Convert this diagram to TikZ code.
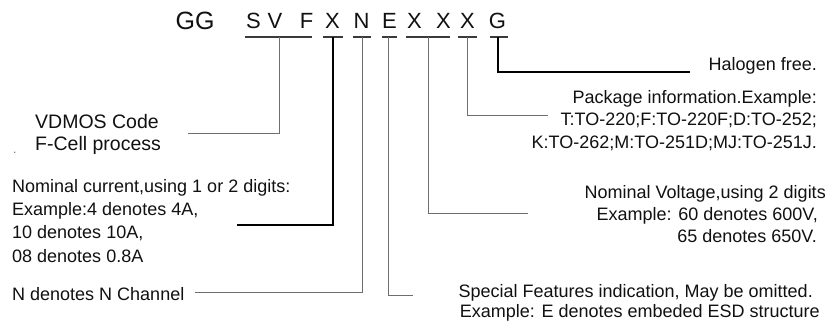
\documentclass[tikz,border=0pt]{standalone}
\usepackage{fontspec}
\setmainfont{Liberation Sans}
\definecolor{txt}{HTML}{111111}
\definecolor{lc}{HTML}{6E6E6E}
\definecolor{ulc}{HTML}{3A3A3A}
\begin{document}
\begin{tikzpicture}[x=1pt,y=-1pt,
  lbl/.style={inner sep=0pt, font=\fontsize{18}{22}\selectfont, text=txt},
  code/.style={inner sep=0pt, font=\fontsize{22}{26}\selectfont, anchor=base, text=txt},
  ul/.style={draw=ulc, line width=1.1pt},
  conn/.style={draw=lc, line width=0.9pt},
  connb/.style={draw=black, line width=1.4pt}]
\useasboundingbox[fill=white] (0,0) rectangle (828,322);

% code letters
\node[code,font=\fontsize{25}{28}\selectfont] (gg) at (195,29) {GG};
\node[code] (s)  at (253.5,28) {S};
\node[code] (v)  at (275,28) {V};
\node[code] (f)  at (306.5,28) {F};
\node[code] (x1) at (332.5,28) {X};
\node[code] (n)  at (361.5,28) {N};
\node[code] (e)  at (389.5,28) {E};
\node[code] (x2) at (414.5,28) {X};
\node[code] (x3) at (443.5,28) {X};
\node[code] (x4) at (467.5,28) {X};
\node[code] (g)  at (497.5,28) {G};

% underlines
\coordinate (svfA) at (245,37); \coordinate (svfB) at (312,37); \coordinate (svfU) at (279,37);
\coordinate (xA) at (323,37);   \coordinate (xB) at (343,37);   \coordinate (xU) at (333,37);
\coordinate (nA) at (353,37);   \coordinate (nB) at (371,37);   \coordinate (nU) at (362,37);
\coordinate (eA) at (382,37);   \coordinate (eB) at (397,37);   \coordinate (eU) at (388,37);
\coordinate (xxA) at (406,37);  \coordinate (xxB) at (450,37);  \coordinate (xxU) at (428,37);
\coordinate (pA) at (458,37);   \coordinate (pB) at (477,37);   \coordinate (pU) at (467,37);
\coordinate (gA) at (490,37);   \coordinate (gB) at (508,37);   \coordinate (gU) at (498,37);
\foreach \a/\b in {svfA/svfB,xA/xB,nA/nB,eA/eB,xxA/xxB,pA/pB,gA/gB}
  \draw[ul] (\a) -- (\b);

% left texts
\node[lbl,anchor=base west,font=\fontsize{19.5}{22}\selectfont] (vd1) at (35,128) {VDMOS Code};
\node[lbl,anchor=base west,font=\fontsize{19.5}{22}\selectfont] (vd2) at (35,150) {F-Cell process};
\node[lbl,anchor=base west,text=lc,font=\fontsize{12}{14}\selectfont] (dot) at (13,153) {.};
\node[lbl,anchor=base west] (c1) at (12,192) {Nominal current,using 1 or 2 digits:};
\node[lbl,anchor=base west] (c2) at (12,215) {Example:4 denotes 4A,};
\node[lbl,anchor=base west] (c3) at (12,238) {10 denotes 10A,};
\node[lbl,anchor=base west] (c4) at (12,262) {08 denotes 0.8A};
\node[lbl,anchor=base west] (nch) at (12,300) {N denotes N Channel};

% right texts
\node[lbl,anchor=base east] (hal) at (817,70) {Halogen free.};
\node[lbl,anchor=base east] (p1) at (817,103) {Package information.Example:};
\node[lbl,anchor=base east] (p2) at (817,125) {T:TO-220;F:TO-220F;D:TO-252;};
\node[lbl,anchor=base east] (p3) at (817,148) {K:TO-262;M:TO-251D;MJ:TO-251J.};
\node[lbl,anchor=base east] (v1) at (826,198) {Nominal Voltage,using 2 digits};
\node[lbl,anchor=base east] (v2) at (818,220) {Example: 60 denotes 600V,};
\node[lbl,anchor=base east] (v3) at (817,242) {65 denotes 650V.};
\node[lbl,anchor=base east] (sp1) at (813,297) {Special Features indication, May be omitted.};
\node[lbl,anchor=base east] (sp2) at (820,317) {Example: E denotes embeded ESD structure};

% connector ends
\coordinate (vdEnd) at (188,133);
\coordinate (curEnd) at (237,225);
\coordinate (nEnd) at (195,292);
\coordinate (eEnd) at (413,295);
\coordinate (vEnd) at (528,213);
\coordinate (pEnd) at (548,115);
\coordinate (hEnd) at (690,72);

\draw[conn] (svfU) |- (vdEnd);
\draw[connb] (xU) |- (curEnd);
\draw[conn] (nU) |- (nEnd);
\draw[conn] (eU) |- (eEnd);
\draw[conn] (xxU) |- (vEnd);
\draw[conn] (pU) |- (pEnd);
\draw[connb] (gU) |- (hEnd);
\end{tikzpicture}
\end{document}
